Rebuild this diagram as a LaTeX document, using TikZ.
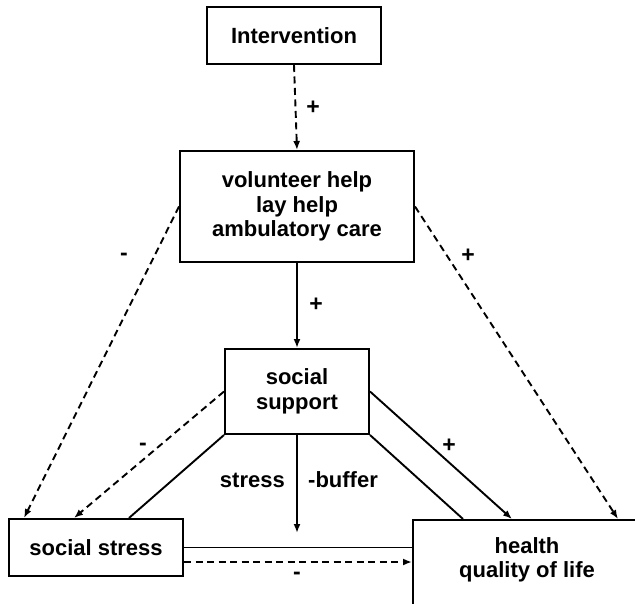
\documentclass[tikz,border=0pt]{standalone}
\usepackage{fontspec}
\setmainfont{Liberation Sans}
\usetikzlibrary{arrows.meta,calc}
\begin{document}
\begin{tikzpicture}[x=1pt,y=-1pt,
  every node/.style={font=\fontsize{22}{24.5}\selectfont\bfseries},
  box/.style={draw, line width=2pt, rectangle, inner sep=0pt, align=center},
  link/.style={line width=1.9pt},
  dash link/.style={line width=1.9pt, dash pattern=on 7pt off 4.5pt},
  tip/.style={-{Latex[length=9pt,width=7pt]}},
  sign/.style={font=\fontsize{23}{23}\selectfont\bfseries, inner sep=0pt}
]
\useasboundingbox (0,0) rectangle (635,604);
\clip (0,0) rectangle (635,604);

% boxes
\node[box, minimum width=174pt, minimum height=57pt] (interv) at (294,35.5) {Intervention};
\node[box, minimum width=234pt, minimum height=111pt] (help) at (297,206.5)
  {volunteer help\\lay help\\ambulatory care};
\node[box, minimum width=144pt, minimum height=85pt] (support) at (297,391.5) {social\\support};
\node[box, minimum width=174pt, minimum height=57pt] (stress) at (96,547.5) {social stress};
\node[box, anchor=north west, minimum width=260pt, minimum height=120pt] (health) at (412,519) {};
\node[align=center, inner sep=0pt] (healthtext) at (527,560) {health\\quality of life};

% connectors
\draw[dash link, tip] (interv.south) -- (help.north);
\draw[link, tip] (help.south) -- (support.north);
\draw[dash link, tip] (help.west) -- ([xshift=16pt]stress.north west);
\draw[dash link, tip] (help.east) -- ([xshift=206pt]health.north west);
\draw[dash link, tip] (support.west) -- ([xshift=66pt]stress.north west);
\draw[link] (support.south west) -- ([xshift=121pt]stress.north west);
\draw[link] (support.south east) -- ([xshift=51pt]health.north west);
\draw[link, tip] (support.east) -- ([xshift=100pt]health.north west);
\coordinate (bufferend) at (297,533);
\draw[link, tip] (support.south) -- (bufferend);
\draw[link] (stress.east) -- (stress.east -| health.west);
\draw[dash link, tip] ([yshift=-14.5pt]stress.east) -- ([yshift=-14.5pt]stress.east -| health.west);

% signs and labels
\node[sign] at (313,108) {+};
\node[sign] at (316,305) {+};
\node[sign] at (124,257) {-};
\node[sign] at (468,256) {+};
\node[sign] at (143,447) {-};
\node[sign] at (449,446) {+};
\node[sign] at (297,576) {-};
\node[anchor=east, inner sep=0pt] (stresslbl) at (285,480) {stress};
\node[anchor=west, inner sep=0pt] (bufferlbl) at (308,480) {-buffer};
\end{tikzpicture}
\end{document}
